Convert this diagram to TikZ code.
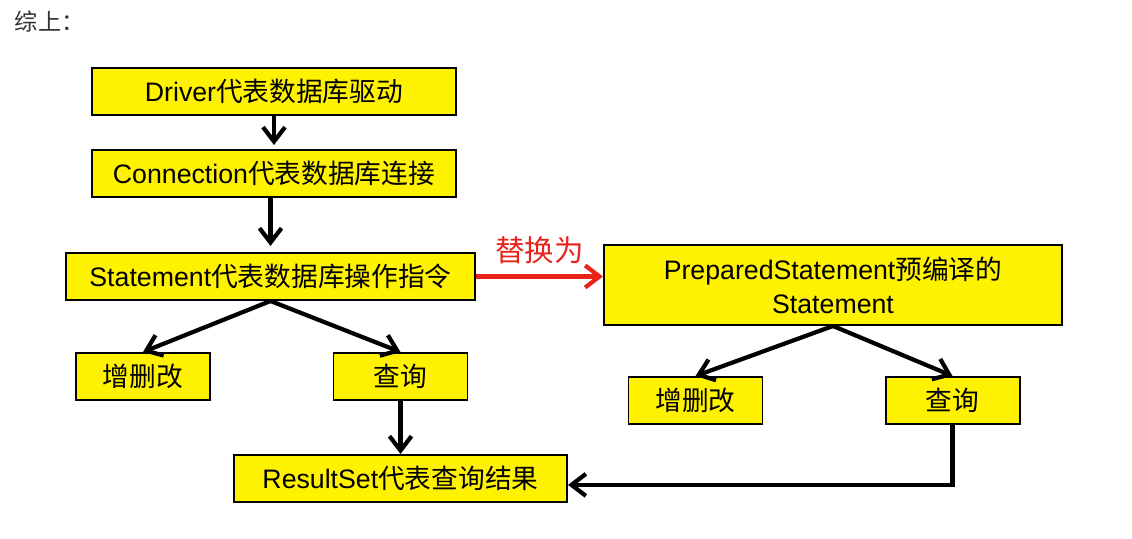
\documentclass[tikz,border=0pt]{standalone}
\usepackage{fontspec}
\setmainfont{Liberation Sans}
\newfontfamily\cjk{Noto Sans CJK SC}
\usetikzlibrary{arrows.meta}
\definecolor{boxyellow}{RGB}{255,242,0}
\definecolor{swapred}{RGB}{232,35,26}
\definecolor{notegray}{RGB}{51,51,51}
\begin{document}
\begin{tikzpicture}[
	box/.style={draw=black, line width=1.4pt, fill=boxyellow, minimum height=\boxh cm,
		inner sep=0pt, align=center, font=\fontsize{19}{23}\selectfont},
	arr/.style={line width=3pt, -{Straight Barb[length=3.6mm,width=5.5mm]}},
	swaparr/.style={arr, draw=swapred}
	]
	\newcommand{\boxh}{1.175}
	\newcommand{\smallw}{3.35}
	\useasboundingbox (0,0) rectangle (28.3,13.45);
	%title
	\node [anchor=west, text=notegray, font=\fontsize{16.5}{18}\selectfont\cjk] (note) at (0.25,12.9) {综上：};
	%left chain
	\node [box, minimum width=9.1cm] (driver) at (6.85,11.1625) {Driver{\cjk 代表数据库驱动}};
	\node [box, minimum width=9.1cm] (conn) at (6.85,9.1125) {Connection{\cjk 代表数据库连接}};
	\node [box, minimum width=10.225cm] (stmt) at (6.7625,6.5375) {Statement{\cjk 代表数据库操作指令}};
	\node [box, minimum width=\smallw cm] (crudL) at (3.575,4.0375) {\cjk 增删改};
	\node [box, minimum width=\smallw cm] (queryL) at (10.0125,4.0375) {\cjk 查询};
	\node [box, minimum width=8.325cm] (result) at (10.0125,1.4875) {ResultSet{\cjk 代表查询结果}};
	%right side
	\node [box, minimum width=11.45cm, minimum height=2cm] (prep) at (20.825,6.325) {PreparedStatement{\cjk 预编译的}\\[1pt]Statement};
	\node [box, minimum width=\smallw cm] (crudR) at (17.3875,3.4375) {\cjk 增删改};
	\node [box, minimum width=\smallw cm] (queryR) at (23.8125,3.4375) {\cjk 查询};
	%arrows
	\draw [arr, shorten >=1mm] (driver.south) -- (conn.north);
	\draw [arr, shorten >=1.5mm] (stmt.north |- conn.south) -- (stmt.north);
	\draw [arr] (stmt.south) -- (crudL.north);
	\draw [arr] (stmt.south) -- (queryL.north);
	\draw [arr] (queryL.south) -- (result.north);
	\draw [arr] (prep.south) -- (crudR.north);
	\draw [arr] (prep.south) -- (queryR.north);
	\draw [arr] (queryR.south) |- ([yshift=-0.16cm]result.east);
	%replace
	\draw [swaparr] (stmt.east) -- (stmt.east -| prep.west)
	node [midway, above=1.5mm, text=swapred, font=\fontsize{21}{24}\selectfont\cjk] (swap) {替换为};
\end{tikzpicture}
\end{document}
